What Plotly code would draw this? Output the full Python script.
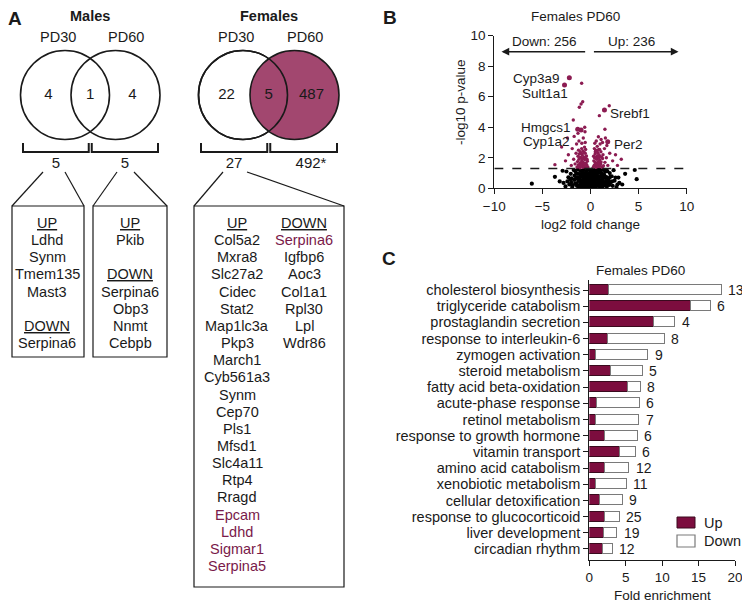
import math

import plotly.graph_objects as go

# the page body keeps an 8px margin, so the figure is drawn smaller and every
# layout coordinate below is given in page pixels (reference picture pixels)
PAGE_W, PAGE_H, OFF = 750, 602, 8
W, H = PAGE_W - OFF, PAGE_H - OFF
FONT = "Liberation Sans, Arial, sans-serif"
INK = "#1a1a1a"
MAROON = "#7c0d3e"
VENN_FILL = "#a2476f"
POINT = "#8c1c52"
HILITE = "#7a1a4a"

# ── Panel A: Venn counts and gene lists ───────────────────────────────────────
males_counts = [4, 1, 4]          # PD30 only, shared, PD60 only
females_counts = [22, 5, 487]

males_pd30_up = ["Ldhd", "Synm", "Tmem135", "Mast3"]
males_pd30_down = ["Serpina6"]
males_pd60_up = ["Pkib"]
males_pd60_down = ["Serpina6", "Obp3", "Nnmt", "Cebpb"]
females_pd30_up = ["Col5a2", "Mxra8", "Slc27a2", "Cidec", "Stat2", "Map1lc3a",
                   "Pkp3", "March1", "Cyb561a3", "Synm", "Cep70", "Pls1", "Mfsd1",
                   "Slc4a11", "Rtp4", "Rragd", "Epcam", "Ldhd", "Sigmar1", "Serpina5"]
females_pd30_down = ["Serpina6", "Igfbp6", "Aoc3", "Col1a1", "Rpl30", "Lpl", "Wdr86"]
females_shared = ["Epcam", "Ldhd", "Sigmar1", "Serpina5", "Serpina6"]

# ── Panel B: volcano (log2 fold change, -log10 p) ─────────────────────────────
down_count, up_count = 256, 236
p_cut = 0.05

ns_points = [
    (-2.6, 0.12), (-2.2, 0.25), (-1.9, 0.08), (-1.6, 0.30), (-1.4, 0.15), (-1.2, 0.05),
    (-1.05, 0.22), (-0.9, 0.10), (-0.75, 0.28), (-0.6, 0.04), (-0.48, 0.18), (-0.35, 0.09),
    (-0.22, 0.26), (-0.1, 0.14), (0.02, 0.06), (0.15, 0.20), (0.28, 0.11), (0.4, 0.29),
    (0.55, 0.03), (0.7, 0.17), (0.85, 0.24), (1.0, 0.07), (1.15, 0.19), (1.3, 0.13),
    (1.5, 0.27), (1.7, 0.10), (1.95, 0.22), (2.3, 0.16), (2.7, 0.08),
    (-2.4, 0.45), (-2.0, 0.38), (-1.7, 0.55), (-1.45, 0.33), (-1.25, 0.48), (-1.1, 0.58),
    (-0.95, 0.36), (-0.8, 0.50), (-0.65, 0.42), (-0.52, 0.57), (-0.4, 0.32), (-0.28, 0.46),
    (-0.15, 0.53), (-0.05, 0.39), (0.08, 0.60), (0.2, 0.35), (0.33, 0.49), (0.46, 0.41),
    (0.6, 0.56), (0.75, 0.34), (0.9, 0.52), (1.05, 0.44), (1.2, 0.59), (1.38, 0.37),
    (1.6, 0.47), (1.85, 0.54), (2.1, 0.40), (2.5, 0.50), (3.0, 0.36),
    (-2.3, 0.72), (-1.95, 0.65), (-1.65, 0.84), (-1.4, 0.70), (-1.2, 0.62), (-1.02, 0.88),
    (-0.88, 0.76), (-0.72, 0.66), (-0.58, 0.81), (-0.45, 0.69), (-0.32, 0.86), (-0.2, 0.63),
    (-0.08, 0.78), (0.05, 0.74), (0.17, 0.89), (0.3, 0.67), (0.43, 0.80), (0.57, 0.71),
    (0.7, 0.85), (0.84, 0.64), (0.98, 0.77), (1.12, 0.87), (1.28, 0.68), (1.45, 0.82),
    (1.65, 0.73), (1.9, 0.66), (2.2, 0.79), (2.6, 0.70),
    (-2.5, 1.10), (-2.05, 0.95), (-1.75, 1.20), (-1.5, 1.02), (-1.3, 1.25), (-1.15, 0.93),
    (-0.98, 1.15), (-0.83, 1.05), (-0.68, 1.22), (-0.55, 0.98), (-0.42, 1.12), (-0.3, 1.27),
    (-0.18, 0.96), (-0.06, 1.18), (0.07, 1.08), (0.2, 1.24), (0.32, 0.94), (0.45, 1.14),
    (0.58, 1.01), (0.72, 1.21), (0.86, 1.06), (1.0, 1.16), (1.16, 0.99), (1.33, 1.23),
    (1.52, 1.09), (1.75, 1.13), (2.0, 1.00), (2.4, 1.19),
    (-1.32, 0.20), (-1.18, 0.68), (-0.99, 0.42), (-0.86, 1.08), (-0.7, 0.16), (-0.6, 0.95),
    (-0.47, 0.62), (-0.37, 0.22), (-0.25, 0.82), (-0.13, 0.33), (-0.02, 1.02), (0.1, 0.55),
    (0.23, 0.14), (0.36, 0.74), (0.5, 0.97), (0.63, 0.27), (0.78, 0.60), (0.93, 0.30),
    (1.08, 1.00), (1.22, 0.75), (1.4, 0.90),
    (-1.1, 1.18), (-0.92, 0.26), (-0.78, 0.92), (-0.63, 0.48), (-0.5, 1.20), (-0.38, 0.75),
    (-0.26, 0.06), (-0.12, 0.58), (0.0, 0.90), (0.12, 0.40), (0.25, 0.70), (0.38, 1.20),
    (0.52, 0.24), (0.66, 1.10), (0.8, 0.42), (0.95, 1.22), (1.1, 0.35), (1.25, 0.52),
    (-1.85, 0.18), (-1.55, 0.62), (-1.35, 0.95), (1.55, 0.68), (1.8, 0.32), (2.05, 0.75),
    (-2.1, 0.58), (2.25, 0.45), (1.62, 1.2), (-1.62, 1.15), (2.8, 0.25), (-2.8, 0.35),
    (-6.1, 0.30), (-3.7, 0.75), (-3.2, 0.45), (-2.9, 1.15), (2.9, 0.70), (3.3, 0.25),
    (3.6, 0.95), (4.8, 0.60), (4.6, 1.20),
]

sig_points = [
    (-1.4, 1.40), (-1.25, 1.55), (-1.1, 1.35), (-0.95, 1.50), (-0.8, 1.38), (-0.65, 1.45),
    (-0.5, 1.36), (-0.38, 1.52), (-0.28, 1.40), (-1.35, 1.75), (-1.2, 1.90), (-1.05, 1.68),
    (-0.9, 1.82), (-0.75, 1.70), (-0.6, 1.88), (-0.45, 1.65), (-0.33, 1.78), (-1.3, 2.10),
    (-1.15, 2.25), (-1.0, 2.02), (-0.85, 2.18), (-0.7, 2.05), (-0.55, 2.30), (-0.42, 2.12),
    (-1.25, 2.50), (-1.08, 2.40), (-0.92, 2.60), (-0.78, 2.45), (-0.62, 2.70), (-0.5, 2.55),
    (-1.18, 1.45), (-1.02, 1.60), (-0.88, 1.55), (-0.72, 1.60), (-0.58, 1.58), (-0.42, 1.42),
    (-1.1, 2.00), (-0.95, 2.30), (-0.65, 2.35), (-0.8, 1.95), (-0.52, 1.98), (-0.36, 1.90),
    (-1.5, 2.30), (-1.6, 1.60), (-1.75, 1.90), (-2.0, 1.50), (-2.3, 2.20), (-1.9, 2.60),
    (-2.6, 1.80), (-1.45, 2.90), (-1.2, 3.10), (-0.9, 2.95), (-0.75, 3.30), (-0.55, 3.00),
    (-1.7, 3.40), (-2.4, 3.30), (-3.0, 2.70), (-3.7, 1.55), (-1.3, 3.60), (-0.6, 4.00),
    (-0.92, 6.88), (-0.81, 5.67), (-0.98, 5.52), (-1.16, 5.31), (-1.79, 4.48), (-0.57, 3.71),
    (0.3, 1.40), (0.45, 1.55), (0.6, 1.38), (0.75, 1.50), (0.9, 1.42), (1.05, 1.60),
    (1.2, 1.37), (1.35, 1.48), (0.35, 1.80), (0.5, 1.70), (0.65, 1.90), (0.8, 1.75),
    (0.95, 1.85), (1.1, 1.72), (1.25, 1.95), (0.32, 2.10), (0.48, 2.25), (0.62, 2.05),
    (0.78, 2.30), (0.92, 2.15), (1.08, 2.40), (1.3, 2.20), (0.4, 2.60), (0.55, 2.50),
    (0.7, 2.75), (0.85, 2.55), (1.0, 2.90), (0.6, 3.10), (0.45, 2.95), (0.38, 1.50),
    (0.55, 1.62), (0.7, 1.58), (0.85, 1.65), (1.0, 1.50), (0.42, 2.00), (0.58, 1.95),
    (0.72, 2.12), (0.88, 2.00), (1.15, 2.05), (0.5, 2.40), (0.68, 2.42), (0.95, 2.55),
    (1.5, 1.70), (1.65, 2.00), (1.8, 1.50), (2.0, 2.30), (2.3, 1.80), (2.6, 2.20),
    (1.45, 2.60), (1.7, 2.80), (2.8, 1.50), (3.2, 1.90), (1.1, 3.20), (0.82, 3.38),
    (1.25, 3.00), (1.55, 3.30), (1.5, 3.87), (0.92, 4.76), (1.95, 5.41),
]

hit_genes = ["Cyp3a9", "Sult1a1", "Hmgcs1", "Cyp1a2", "Srebf1", "Per2"]
hit_lfc = [-2.2, -2.7, -1.33, -0.98, 1.45, 1.79]
hit_logp = [7.25, 6.77, 3.87, 3.82, 5.13, 3.05]

# ── Panel C: GO enrichment ────────────────────────────────────────────────────
go_terms = ["cholesterol biosynthesis", "triglyceride catabolism", "prostaglandin secretion",
            "response to interleukin-6", "zymogen activation", "steroid metabolism",
            "fatty acid beta-oxidation", "acute-phase response", "retinol metabolism",
            "response to growth hormone", "vitamin transport", "amino acid catabolism",
            "xenobiotic metabolism", "cellular detoxification", "response to glucocorticoid",
            "liver development", "circadian rhythm"]
enrich_up = [2.8, 14.0, 8.9, 2.6, 0.9, 3.0, 5.4, 1.05, 0.95, 2.25, 4.3, 2.25, 0.9, 1.5,
             2.15, 2.0, 1.9]
enrich_down = [15.4, 2.75, 2.95, 7.85, 7.25, 4.35, 1.7, 5.9, 5.95, 4.5, 2.1, 3.3, 4.25,
               3.15, 2.05, 1.9, 1.4]
gene_counts = [13, 6, 4, 8, 9, 5, 8, 6, 7, 6, 6, 12, 11, 9, 25, 19, 12]


def px(x):
    return (x - OFF) / W


def py(y):
    return 1 - (y - OFF) / H


fig = go.Figure()
shapes, notes = [], []


def text(x, y, s, size=14.5, color=INK, bold=False, anchor="center", ref=("x3", "y3"), **kw):
    notes.append(dict(
        x=x, y=y, xref=ref[0], yref=ref[1], text=f"<b>{s}</b>" if bold else s,
        showarrow=False, xanchor=anchor, yanchor="middle",
        font=dict(family=FONT, size=size, color=color), **kw,
    ))


def line(x0, y0, x1, y1, width=1.2, color=INK, **kw):
    shapes.append(dict(type="line", xref="x3", yref="y3", x0=x0, y0=y0, x1=x1, y1=y1,
                       line=dict(color=color, width=width), **kw))


# ── Panel A ───────────────────────────────────────────────────────────────────
R, CY = 44.5, 95


def venn(cx_l, cx_r, counts, title, filled):
    mid = (cx_l + cx_r) / 2
    circ = lambda cx, fill: dict(type="circle", xref="x3", yref="y3", layer="below",
                                 x0=cx - R, x1=cx + R, y0=CY - R, y1=CY + R,
                                 fillcolor=fill, line=dict(color=INK, width=1.6))
    if filled:
        shapes.append(circ(cx_l, "white"))
        shapes.append(circ(cx_r, VENN_FILL))
        shapes.append(circ(cx_l, "rgba(0,0,0,0)"))
    else:
        shapes.append(circ(cx_l, "rgba(0,0,0,0)"))
        shapes.append(circ(cx_r, "rgba(0,0,0,0)"))
    text(mid, 16, title, size=14.5, bold=True)
    text(cx_l - 7, 37, "PD30", size=14.5)
    text(cx_r + 10, 37, "PD60", size=14.5)
    fig.add_trace(go.Scatter(
        x=[cx_l - 16.5, mid, cx_r + 17], y=[CY] * 3, text=[str(c) for c in counts],
        mode="text", textfont=dict(family=FONT, size=15, color=INK),
        xaxis="x3", yaxis="y3", showlegend=False, hoverinfo="skip",
    ))
    for x0, x1 in [(cx_l - 42, mid - 1.5), (mid + 1.5, cx_r + 42.5)]:
        shapes.append(dict(type="path", xref="x3", yref="y3",
                           path=f"M{x0},143 L{x0},152 L{x1},152 L{x1},143",
                           line=dict(color=INK, width=2)))


venn(65, 115.5, males_counts, "Males", False)
venn(243, 294.5, females_counts, "Females", True)

m_tot = [males_counts[0] + males_counts[1], males_counts[1] + males_counts[2]]
f_tot = [females_counts[0] + females_counts[1], females_counts[1] + females_counts[2]]
fig.add_trace(go.Scatter(
    x=[56, 125, 234, 311], y=[164] * 4,
    text=[str(m_tot[0]), str(m_tot[1]), str(f_tot[0]), f"{f_tot[1]}*"],
    mode="text", textfont=dict(family=FONT, size=15, color=INK),
    xaxis="x3", yaxis="y3", showlegend=False, hoverinfo="skip",
))

# callout boxes
BOX_TOP = 206
boxes = [(12, 84, 357, (43, 65)), (93, 167, 357, (117, 134)), (194, 344, 587, (223, 247))]
for x0, x1, y1, (a0, a1) in boxes:
    shapes.append(dict(type="rect", xref="x3", yref="y3", x0=x0, x1=x1, y0=BOX_TOP, y1=y1,
                       line=dict(color=INK, width=1.2)))
    line(a0, 172, x0, BOX_TOP)
    line(a1, 172, x1, BOX_TOP)

ROW0, ROW = 223, 17.15


def gene_column(xc, up, down, hi=()):
    rows = ["<u>UP</u>"] + up
    if down:
        rows += ["", "<u>DOWN</u>"] + down
    for i, g in enumerate(rows):
        if g:
            text(xc, ROW0 + i * ROW, g, color=HILITE if g in hi else INK)


gene_column(47, males_pd30_up, males_pd30_down)
gene_column(130, males_pd60_up, males_pd60_down)
gene_column(237, females_pd30_up, [], hi=females_shared)
text(304, ROW0, "<u>DOWN</u>")
for i, g in enumerate(females_pd30_down):
    text(304, ROW0 + (i + 1) * ROW, g, color=HILITE if g in females_shared else INK)

# ── Panel B ───────────────────────────────────────────────────────────────────
fig.add_trace(go.Scatter(
    x=[p[0] for p in ns_points], y=[p[1] for p in ns_points], mode="markers",
    marker=dict(color="black", size=4.2), showlegend=False, hoverinfo="skip",
))
fig.add_trace(go.Scatter(
    x=[p[0] for p in sig_points], y=[p[1] for p in sig_points], mode="markers",
    marker=dict(color=POINT, size=3.4), showlegend=False, hoverinfo="skip",
))
fig.add_trace(go.Scatter(
    x=hit_lfc, y=hit_logp, mode="markers",
    marker=dict(color=POINT, size=5), showlegend=False, hoverinfo="skip",
))

thr = -math.log10(p_cut)
shapes.append(dict(type="line", xref="x", yref="y", x0=-10, x1=10, y0=thr, y1=thr,
                   line=dict(color=INK, width=1.5, dash="dash")))

label_pos = {  # where each gene label sits (lfc, logp, anchor side)
    "Cyp3a9": (-3.0, 7.2, "right"), "Sult1a1": (-2.1, 6.18, "right"),
    "Hmgcs1": (-1.85, 4.0, "right"), "Cyp1a2": (-1.95, 3.05, "right"),
    "Srebf1": (1.8, 4.87, "left"), "Per2": (2.2, 2.9, "left"),
}
for g in hit_genes:
    lx, ly, side = label_pos[g]
    text(lx, ly, g, size=13.5, anchor=side, ref=("x", "y"))

for tail, head, lbl, lx in [(-0.4, -9.25, f"Down: {down_count}", -4.8),
                            (0.2, 9.15, f"Up: {up_count}", 4.3)]:
    notes.append(dict(x=head, y=8.95, ax=tail, ay=8.95, xref="x", yref="y", axref="x",
                      ayref="y", text="", showarrow=True, arrowhead=2, arrowsize=1.1,
                      arrowwidth=1.4, arrowcolor=INK))
    text(lx, 9.6, lbl, size=13.5, ref=("x", "y"))

text(575, 16, "Females PD60", size=13.5)
text(590, 224, "log2 fold change", size=13.5)
text(460, 102, "-log10 p-value", size=13.5, textangle=-90)

# ── Panel C ───────────────────────────────────────────────────────────────────
C_LEFT, C_RIGHT = 589.3, 735.0
rows = list(range(len(go_terms)))
fig.add_trace(go.Bar(
    x=enrich_up, y=rows, orientation="h", xaxis="x2", yaxis="y2", width=0.62,
    marker=dict(color=MAROON, line=dict(color="#3a0a1e", width=1)),
    showlegend=False, hoverinfo="skip",
))
fig.add_trace(go.Bar(
    x=enrich_down, y=rows, orientation="h", xaxis="x2", yaxis="y2", width=0.62,
    marker=dict(color="white", line=dict(color="#7a7a7a", width=1.2)),
    showlegend=False, hoverinfo="skip",
))
for i, n in enumerate(gene_counts):
    notes.append(dict(x=enrich_up[i] + enrich_down[i], y=i, xref="x2", yref="y2",
                      text=str(n), showarrow=False, xanchor="left", xshift=4,
                      font=dict(family=FONT, size=14, color=INK)))

text(640, 270, "Females PD60", size=13.5)
text((C_LEFT + C_RIGHT) / 2, 595, "Fold enrichment", size=13.5)

# legend
shapes.append(dict(type="rect", xref="x3", yref="y3", x0=677, x1=695, y0=517, y1=528,
                   fillcolor=MAROON, line=dict(color="#3a0a1e", width=1)))
shapes.append(dict(type="rect", xref="x3", yref="y3", x0=677, x1=695, y0=535, y1=547,
                   fillcolor="white", line=dict(color="#7a7a7a", width=1.2)))
text(702, 522.5, "Up", size=14.5, anchor="left")
text(702, 541, "Down", size=14.5, anchor="left")

# panel letters
text(15, 18, "A", size=19, bold=True)
text(390, 17, "B", size=19, bold=True)
text(389, 258, "C", size=19, bold=True)

axis_common = dict(showline=True, linecolor=INK, linewidth=1.3, ticks="outside",
                   ticklen=5, tickwidth=1.3, tickcolor=INK, showgrid=False, zeroline=False,
                   automargin=False, fixedrange=True,
                   tickfont=dict(family=FONT, size=13.5, color=INK))

fig.update_layout(
    template="none",
    width=W, height=H, margin=dict(l=0, r=0, t=0, b=0, pad=0), autosize=False,
    paper_bgcolor="white", plot_bgcolor="rgba(0,0,0,0)",
    barmode="stack", bargap=0, showlegend=False,
    font=dict(family=FONT, color=INK),
    xaxis=dict(domain=[px(494.3), px(686.7)], range=[-10, 10], tickvals=[-10, -5, 0, 5, 10],
               anchor="y", **axis_common),
    yaxis=dict(domain=[py(188.3), py(35.7)], range=[0, 10], tickvals=[0, 2, 4, 6, 8, 10],
               anchor="x", **axis_common),
    xaxis2=dict(domain=[px(C_LEFT), px(C_RIGHT)], range=[0, 20], tickvals=[0, 5, 10, 15, 20],
                anchor="y2", **axis_common),
    yaxis2=dict(domain=[py(560), py(280)], range=[16.68, -0.62], tickvals=rows,
                ticktext=go_terms, anchor="x2",
                **{**axis_common, "tickfont": dict(family=FONT, size=14.5, color=INK)}),
    xaxis3=dict(domain=[0, 1], range=[OFF, OFF + W], visible=False, fixedrange=True,
                automargin=False, anchor="y3"),
    yaxis3=dict(domain=[0, 1], range=[OFF + H, OFF], visible=False, fixedrange=True,
                automargin=False, anchor="x3"),
    shapes=shapes, annotations=notes,
)

fig.write_html("out.html")
